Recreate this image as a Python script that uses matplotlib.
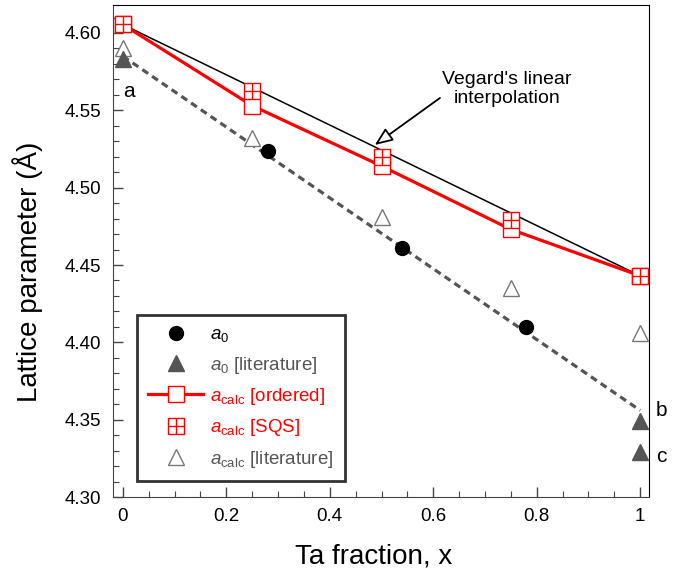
import matplotlib
matplotlib.use("Agg")
import matplotlib.pyplot as plt
import numpy as np

plt.rcParams['font.family'] = ['Liberation Sans', 'DejaVu Sans']
plt.rcParams['mathtext.fontset'] = 'custom'
plt.rcParams['mathtext.it'] = 'Liberation Sans:italic'
plt.rcParams['mathtext.rm'] = 'Liberation Sans'

# data
x_calc = [0, 0.25, 0.5, 0.75, 1.0]
a_ordered = [4.6055, 4.553, 4.514, 4.473, 4.443]
a_sqs = [4.6055, 4.5625, 4.520, 4.479, 4.443]
a_calc_lit = [4.590, 4.532, 4.481, 4.435, 4.406]

x_a0 = [0.28, 0.54, 0.78]
a0 = [4.524, 4.461, 4.410]

x_a0_lit = [0, 1, 1]
a0_lit = [4.583, 4.349, 4.329]

x_vegard = [0, 1]
a_vegard = [4.6055, 4.443]
x_fit = [0, 1]
a_fit = [4.585, 4.356]

red = '#ff0000'
gray = '#555555'
lgray = '#777777'

fig = plt.figure(figsize=(6.79, 5.73), dpi=100)
ax = fig.add_axes([0.1664, 0.1326, 0.7894, 0.8584])

ax.plot(x_vegard, a_vegard, color='black', lw=1.1, zorder=2)
ax.plot(x_fit, a_fit, color=gray, lw=2.3, ls=(0, (2.2, 1.5)), zorder=2)
h_ord, = ax.plot(x_calc, a_ordered, color=red, lw=2.3, marker='s', ms=11.5,
                 mfc='white', mec=red, mew=1.0, zorder=4)
h_sqs1, = ax.plot(x_calc, a_sqs, ls='none', marker='s', ms=11.5,
                  mfc='white', mec=red, mew=1.0, zorder=5)
h_sqs2, = ax.plot(x_calc, a_sqs, ls='none', marker='+', ms=11.5,
                  mec=red, mew=1.0, zorder=6)
h_lit, = ax.plot(x_calc, a_calc_lit, ls='none', marker='^', ms=11,
                 mfc='white', mec=lgray, mew=1.0, zorder=3)
h_a0, = ax.plot(x_a0, a0, ls='none', marker='o', ms=10, color='black', zorder=5)
h_a0l, = ax.plot(x_a0_lit, a0_lit, ls='none', marker='^', ms=11, color=gray,
                 zorder=5)

ax.set_xlim(-0.019, 1.017)
ax.set_ylim(4.30, 4.618)
ax.set_xticks([0, 0.2, 0.4, 0.6, 0.8, 1.0])
ax.set_xticklabels(['0', '0.2', '0.4', '0.6', '0.8', '1'])
ax.set_xticks(np.arange(0, 1.001, 0.05), minor=True)
ax.set_yticks([4.30, 4.35, 4.40, 4.45, 4.50, 4.55, 4.60])
ax.set_yticklabels(['4.30', '4.35', '4.40', '4.45', '4.50', '4.55', '4.60'])
ax.set_yticks(np.arange(4.30, 4.615, 0.01), minor=True)
ax.tick_params(which='both', direction='in', labelsize=13.5, color='#444444')
ax.tick_params(which='major', length=7, width=1)
ax.tick_params(which='minor', length=4, width=0.8)
ax.tick_params(axis='x', pad=8)
ax.tick_params(axis='y', pad=8.5)
for s in ['left', 'bottom']:
    ax.spines[s].set_color('#444444')

ax.set_xlabel('Ta fraction, x', fontsize=20)
ax.set_ylabel('Lattice parameter (Å)', fontsize=20)
ax.xaxis.set_label_coords(0.487, -0.095)
ax.yaxis.set_label_coords(-0.13, 0.457)

ax.text(0.0, 4.562, 'a', fontsize=15, ha='left', va='center')
ax.text(1.03, 4.356, 'b', fontsize=15, ha='left', va='center', clip_on=False)
ax.text(1.03, 4.326, 'c', fontsize=15, ha='left', va='center', clip_on=False)

ax.text(0.743, 4.564, "Vegard's linear\ninterpolation", fontsize=14,
        ha='center', va='center', linespacing=1.15)
ax.annotate('', xy=(0.487, 4.5276), xytext=(0.613, 4.558),
            arrowprops=dict(arrowstyle='-|>,head_length=1.1,head_width=0.45',
                            fc='white', ec='black', lw=1.3,
                            shrinkA=0, shrinkB=0))

leg = ax.legend([h_a0, h_a0l, h_ord, (h_sqs1, h_sqs2), h_lit],
                [r'$a_0$', r'$a_0$ [literature]', r'$a_{\rm calc}$ [ordered]',
                 r'$a_{\rm calc}$ [SQS]', r'$a_{\rm calc}$ [literature]'],
                loc='lower left', bbox_to_anchor=(0.045, 0.033), fontsize=13.5,
                frameon=True, fancybox=False, edgecolor='black',
                handlelength=2.9, handletextpad=0.4, borderpad=0.6,
                labelspacing=0.55, borderaxespad=0)
leg.get_frame().set_linewidth(2)
cols = ['black', gray, red, red, gray]
for t, c in zip(leg.get_texts(), cols):
    t.set_color(c)

fig.savefig('out.png', dpi=100)
